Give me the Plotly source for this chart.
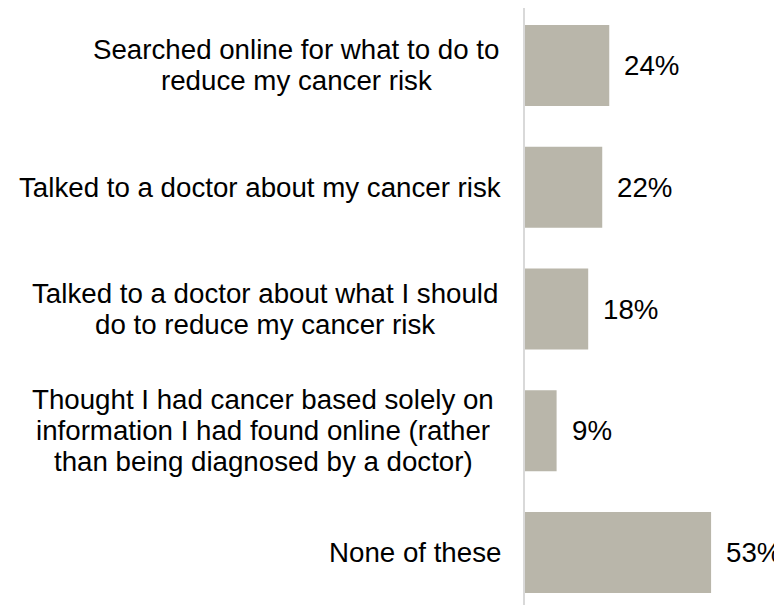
import plotly.graph_objects as go

categories = [
    ["Searched online for what to do to", "reduce my cancer risk"],
    ["Talked to a doctor about my cancer risk"],
    ["Talked to a doctor about what I should", "do to reduce my cancer risk"],
    ["Thought I had cancer based solely on", "information I had found online (rather", "than being diagnosed by a doctor)"],
    ["None of these"],
]
values = [24, 22, 18, 9, 53]
value_labels = ["24%", "22%", "18%", "9%", "53%"]

# layout constants (pixel offsets relative to the plot's left edge)
label_centers = [-229, None, -260, -262, None]
LINE_GAP = 31
FONT = "Liberation Sans, Arial, sans-serif"
FS = 27.7

fig = go.Figure()
fig.add_trace(go.Bar(
    y=list(range(len(categories))),
    x=values,
    orientation="h",
    marker=dict(color="#b9b6aa", line=dict(width=0)),
    width=0.665,
    hoverinfo="skip",
))

for i, (v, lab, lines) in enumerate(zip(values, value_labels, categories)):
    fig.add_annotation(x=v, y=i, xref="x", yref="y", text=lab, showarrow=False,
                       xanchor="left", yanchor="middle", xshift=13,
                       font=dict(family=FONT, size=FS, color="#000000"))
    n = len(lines)
    for k, line in enumerate(lines):
        ys = -(k - (n - 1) / 2) * LINE_GAP
        if label_centers[i] is None:
            fig.add_annotation(x=0, y=i, xref="paper", yref="y", text=line, showarrow=False,
                               xanchor="right", yanchor="middle", xshift=-22, yshift=ys,
                               font=dict(family=FONT, size=FS, color="#000000"))
        else:
            fig.add_annotation(x=0, y=i, xref="paper", yref="y", text=line, showarrow=False,
                               xanchor="center", yanchor="middle", xshift=label_centers[i], yshift=ys,
                               font=dict(family=FONT, size=FS, color="#000000"))

fig.update_layout(
    width=774, height=602,
    margin=dict(l=517, r=0, t=0, b=5),
    paper_bgcolor="white", plot_bgcolor="white",
    showlegend=False,
    xaxis=dict(range=[0, 73.2], visible=False, fixedrange=True),
    yaxis=dict(range=[4.431, -0.472], showticklabels=False, showgrid=False,
               zeroline=False, showline=True, linecolor="#d9d9d9", linewidth=2,
               ticks="", fixedrange=True),
)

fig.write_html("out.html")
